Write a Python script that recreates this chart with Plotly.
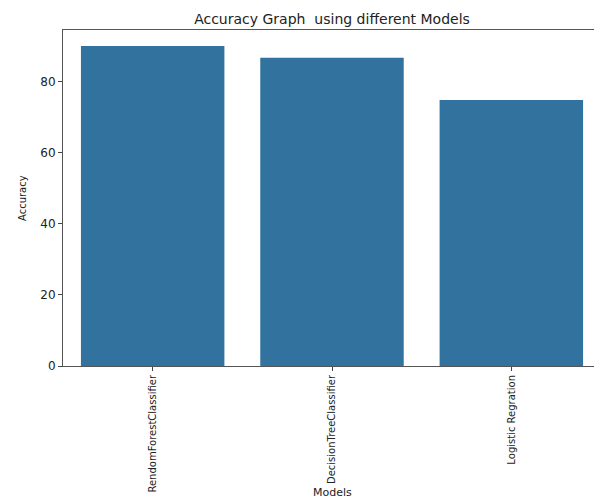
import plotly.graph_objects as go

models = ["RendomForestClassifier", "DecisionTreeClassifier", "Logistic Regration"]
accuracy = [90.0, 86.7, 74.8]
y_ticks = [0, 20, 40, 60, 80]

bar_color = "#31729f"
font_family = "DejaVu Sans"
text_color = "#222222"

# the page body has an 8px margin, so the figure is 8px smaller than the window
W, H = 594, 491
L, R, T, B = 55, 1, 22, 133
plot_w = W - L - R
plot_h = H - T - B

fig = go.Figure(
    go.Bar(x=models, y=accuracy, marker=dict(color=bar_color, line=dict(width=0)))
)

fig.update_layout(
    width=W,
    height=H,
    margin=dict(l=L, r=R, t=T, b=B, autoexpand=False),
    paper_bgcolor="white",
    plot_bgcolor="white",
    bargap=0.2,
    showlegend=False,
    font=dict(family=font_family, color=text_color),
    title=dict(
        text="Accuracy Graph  using different Models",
        x=(L + plot_w / 2) / W,
        xanchor="center",
        y=1 - 11 / H,
        yanchor="middle",
        font=dict(size=14, family=font_family, color=text_color),
    ),
    annotations=[
        dict(
            text="Models", xref="paper", yref="paper", x=0.5, y=-(484 - (T + plot_h)) / plot_h,
            xanchor="center", yanchor="middle", showarrow=False,
            font=dict(size=11, family=font_family, color=text_color),
        ),
        dict(
            text="Accuracy", xref="paper", yref="paper", x=-(L - 14) / plot_w, y=0.5,
            xanchor="center", yanchor="middle", showarrow=False, textangle=-90,
            font=dict(size=10, family=font_family, color=text_color),
        ),
    ],
)

fig.update_xaxes(
    type="category",
    range=[-0.5, 2.5],
    tickangle=-90,
    ticks="outside",
    ticklen=4,
    tickcolor="#444444",
    showline=True,
    linecolor="#555555",
    linewidth=1,
    mirror=True,
    showgrid=False,
    automargin=False,
    tickfont=dict(size=10, family=font_family, color=text_color),
)

fig.update_yaxes(
    range=[0, 94.5],
    tickvals=y_ticks,
    ticks="outside",
    ticklen=4,
    tickcolor="#444444",
    showline=True,
    linecolor="#555555",
    linewidth=1,
    mirror=True,
    showgrid=False,
    zeroline=False,
    automargin=False,
    tickfont=dict(size=12, family=font_family, color=text_color),
)

fig.write_html("out.html")
